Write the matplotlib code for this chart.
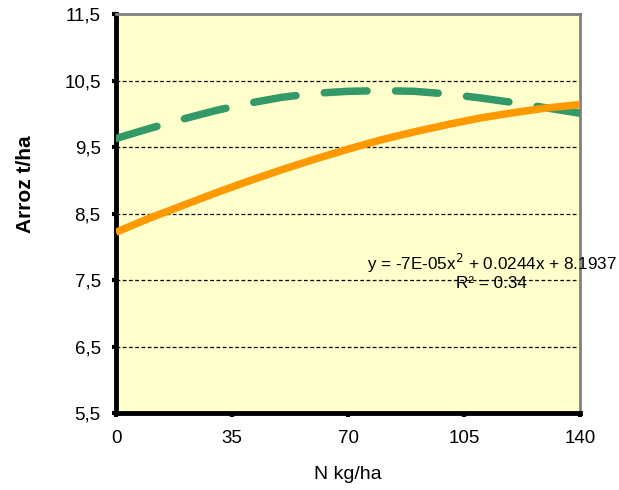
import matplotlib
matplotlib.use("Agg")
import matplotlib.pyplot as plt

# nitrogen dose (kg/ha)
n_dose = [0, 10, 20, 30, 40, 50, 60, 70, 80, 90, 100, 110, 120, 130, 140]
# green dashed series (t/ha)
yield_green = [9.63, 9.78, 9.92, 10.05, 10.16, 10.25, 10.31, 10.34, 10.35,
               10.34, 10.30, 10.24, 10.17, 10.09, 10.01]
# orange fitted series (t/ha)
yield_orange = [8.22, 8.43, 8.62, 8.81, 8.99, 9.16, 9.32, 9.47, 9.61,
                9.73, 9.84, 9.94, 10.02, 10.09, 10.14]

x_ticks = [0, 35, 70, 105, 140]
y_ticks = [5.5, 6.5, 7.5, 8.5, 9.5, 10.5, 11.5]
y_tick_labels = ["5,5", "6,5", "7,5", "8,5", "9,5", "10,5", "11,5"]

plt.rcParams['font.family'] = ['Liberation Sans', 'DejaVu Sans']

fig = plt.figure(figsize=(6.19, 4.9), dpi=100)
ax = fig.add_axes([0.1874, 0.157, 0.7496, 0.814])
ax.set_facecolor('#FFFFCC')

for yv in y_ticks[1:-1]:
    ax.axhline(yv, color='black', lw=0.9, ls=(0, (3, 2)), zorder=1)

ax.plot(n_dose, yield_green, color='#339966', lw=5.4, ls=(0, (5.7, 3.8)),
        solid_capstyle='round', dash_capstyle='round', zorder=3)
ax.plot(n_dose, yield_orange, color='#FF9900', lw=5.4, solid_capstyle='butt', zorder=4)

ax.set_xlim(0, 140)
ax.set_ylim(5.5, 11.5)
ax.set_xticks(x_ticks)
ax.set_yticks(y_ticks)
ax.set_yticklabels(y_tick_labels)

ax.spines['left'].set_linewidth(3.5)
ax.spines['bottom'].set_linewidth(3.5)
ax.spines['top'].set_color('#808080')
ax.spines['right'].set_color('#808080')
ax.spines['top'].set_linewidth(2)
ax.spines['right'].set_linewidth(2)

ax.tick_params(axis='both', direction='out', length=3, width=3,
               labelsize=13.5, color='black')
ax.tick_params(axis='y', pad=8)
ax.tick_params(axis='x', pad=9)

ax.set_xlabel('N kg/ha', fontsize=14, labelpad=14)
ax.set_ylabel('Arroz t/ha', fontsize=15, fontweight='bold')
ax.yaxis.set_label_coords(-0.175, 0.574)

ax.text(0.81, 0.376, 'y = -7E-05x$^2$ + 0.0244x + 8.1937', transform=ax.transAxes,
        ha='center', va='center', fontsize=12.3, zorder=5, clip_on=False)
ax.text(0.81, 0.326, 'R² = 0.34', transform=ax.transAxes,
        ha='center', va='center', fontsize=12.3, zorder=5)

fig.savefig('out.png', dpi=100)
